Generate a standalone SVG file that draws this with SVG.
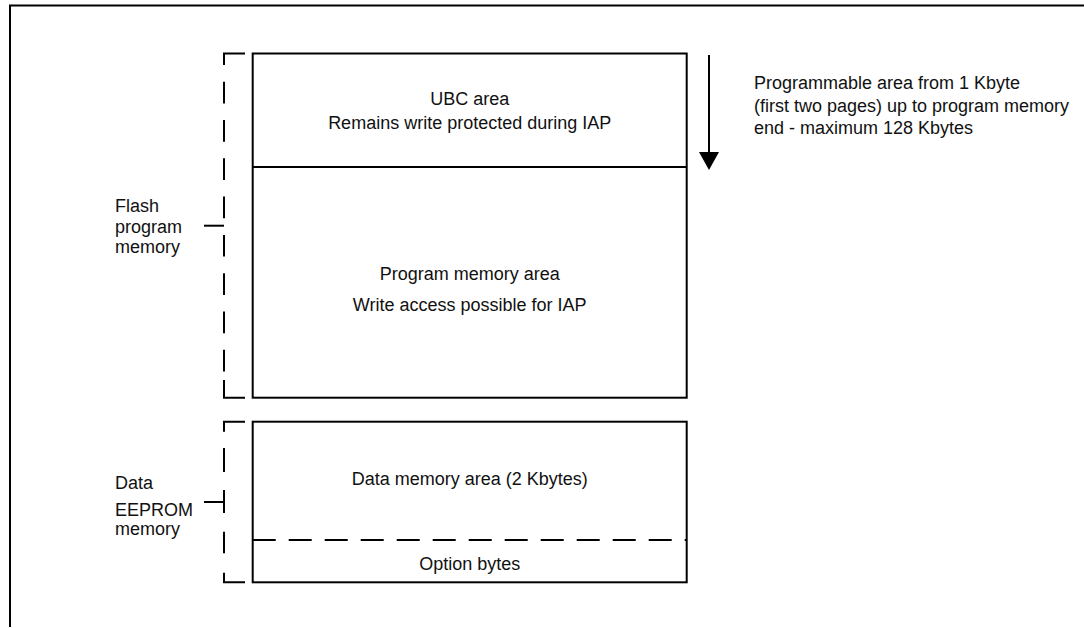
<svg xmlns="http://www.w3.org/2000/svg" width="1084" height="628" viewBox="0 0 1084 628">
<style>
  .ln { fill: none; stroke: #000; stroke-width: 2; }
  .t { font-family: "Liberation Sans", Arial, Helvetica, sans-serif; font-size: 18px; fill: #111; }
  .c { text-anchor: middle; }
</style>
<defs>
  <marker id="ah" markerWidth="18" markerHeight="20" refX="8" refY="10" orient="auto" markerUnits="userSpaceOnUse" viewBox="0 0 18 20">
    <path d="M0,0 L18,10 L0,20 Z" fill="#000"/>
  </marker>
</defs>
<rect width="1084" height="628" fill="#fff"/>
<path class="ln" d="M10,627 V5.5 H1084"/>

<g id="flash-memory">
  <rect class="ln" x="252.7" y="53.5" width="434" height="344.2"/>
  <line class="ln" x1="252.7" y1="167" x2="686.7" y2="167"/>
</g>
<g id="ubc-area">
  <text class="t c" x="469.7" y="105">UBC area</text>
  <text class="t c" x="469.7" y="129">Remains write protected during IAP</text>
</g>
<g id="program-memory-area">
  <text class="t c" x="469.7" y="280">Program memory area</text>
  <text class="t c" x="469.7" y="311">Write access possible for IAP</text>
</g>

<g id="data-eeprom">
  <rect class="ln" x="252.7" y="421.7" width="434" height="160.6"/>
  <line class="ln" x1="252.7" y1="540" x2="686.7" y2="540" stroke-dasharray="23 13"/>
  <text class="t c" x="469.7" y="485">Data memory area (2 Kbytes)</text>
  <text class="t c" x="469.7" y="570">Option bytes</text>
</g>

<g id="flash-bracket">
  <polyline class="ln" points="245,53.5 224,53.5 224,65"/>
  <line class="ln" x1="224" y1="81.7" x2="224" y2="380" stroke-dasharray="21.7 16.6"/>
  <polyline class="ln" points="224,380 224,397.7 245,397.7"/>
  <line class="ln" x1="204" y1="225.7" x2="224" y2="225.7"/>
  <text class="t" x="115" y="212.3">Flash</text>
  <text class="t" x="115" y="232.7">program</text>
  <text class="t" x="115" y="253.3">memory</text>
</g>

<g id="data-bracket">
  <polyline class="ln" points="245,421.7 224,421.7 224,431.7"/>
  <line class="ln" x1="224" y1="448" x2="224" y2="472"/>
  <line class="ln" x1="224" y1="490" x2="224" y2="513"/>
  <line class="ln" x1="224" y1="531.7" x2="224" y2="553.3"/>
  <polyline class="ln" points="224,572.7 224,582.3 245,582.3"/>
  <line class="ln" x1="204" y1="502" x2="224" y2="502"/>
  <text class="t" x="115" y="488.5">Data</text>
  <text class="t" x="115" y="516">EEPROM</text>
  <text class="t" x="115" y="535">memory</text>
</g>

<g id="connectors">
  <line class="ln" x1="709" y1="55" x2="709" y2="160" marker-end="url(#ah)"/>
</g>

<g id="programmable-note">
  <text class="t" x="754" y="89">Programmable area from 1 Kbyte</text>
  <text class="t" x="754" y="111.5">(first two pages) up to program memory</text>
  <text class="t" x="754" y="133.5">end - maximum 128 Kbytes</text>
</g>
</svg>
